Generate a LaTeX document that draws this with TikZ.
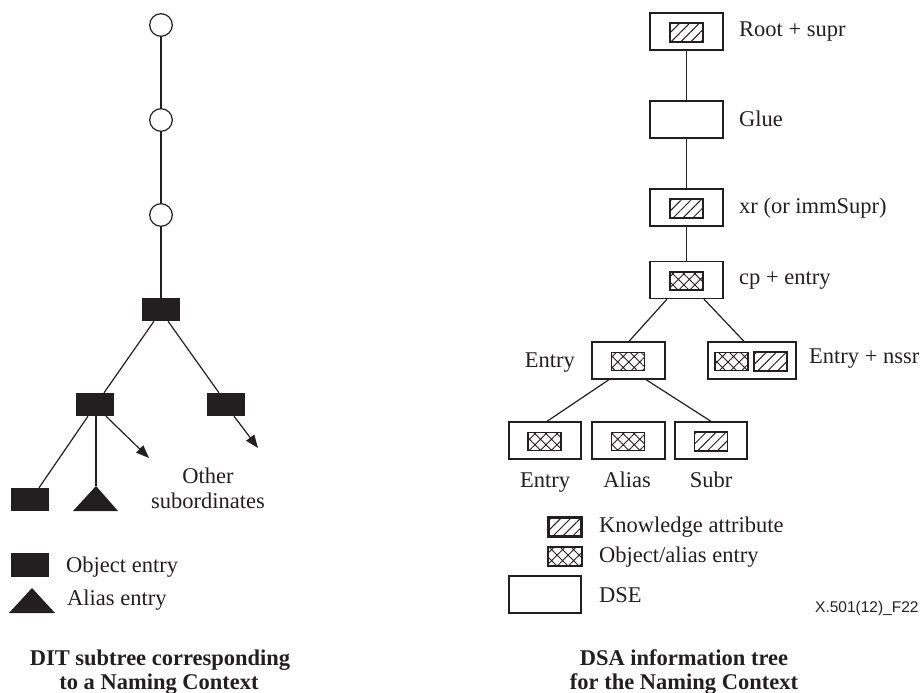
\documentclass[tikz,border=0pt]{standalone}
\usepackage{fontspec}
\setmainfont{Liberation Serif}
\newfontfamily\lsans{Liberation Sans}
\usetikzlibrary{arrows.meta,patterns.meta}
\definecolor{ink}{HTML}{231F20}
\begin{document}
\begin{tikzpicture}[x=1pt,y=-1pt,
  lbl/.style={inner sep=0pt,text=ink,font=\fontsize{22.5}{25}\selectfont},
  captext/.style={inner sep=0pt,text=ink,align=center,font=\fontsize{22.5}{25}\selectfont\bfseries},
  circ/.style={circle,draw=ink,line width=1.2pt,minimum size=22.6pt,inner sep=0pt},
  blk/.style={rectangle,fill=ink,draw=none,minimum width=38pt,minimum height=23pt,inner sep=0pt},
  dsebox/.style={rectangle,draw=ink,line width=1.3pt,minimum width=73pt,minimum height=37pt,inner sep=0pt},
  kn/.style={rectangle,draw=ink,line width=1.2pt,minimum width=33pt,minimum height=19pt,inner sep=0pt,
    pattern={Lines[angle=45,distance=7pt,line width=1pt]},pattern color=ink},
  oa/.style={rectangle,draw=ink,line width=1.2pt,minimum width=33pt,minimum height=18pt,inner sep=0pt,
    pattern={Hatch[angle=45,distance=7.8pt,line width=0.9pt]},pattern color=ink},
  conn/.style={draw=ink,line width=1.2pt},
  arr/.style={conn,-{Triangle[length=13pt,width=10pt]}}
]
\useasboundingbox (0,0) rectangle (922,693);

% ---------------- Left tree ----------------
\node[circ] (c1) at (161,25) {};
\node[circ] (c2) at (161,120) {};
\node[circ] (c3) at (161,215) {};
\node[blk] (t0) at (161,309.5) {};
\node[blk] (tl) at (95,404.5) {};
\node[blk] (tr) at (226,404.5) {};
\node[blk] (tll) at (30,499.5) {};
\coordinate (triapex) at (96,486);
\fill[ink] (73,511) -- (triapex) -- (118,511) -- cycle;
\coordinate (a1) at (149,458);
\coordinate (a2) at (258,448);

\draw[conn] (c1) -- (c2);
\draw[conn] (c2) -- (c3);
\draw[conn] (c3) -- (t0);
\draw[conn] ([xshift=-7pt]t0.south) -- ([xshift=9pt]tl.north);
\draw[conn] ([xshift=7pt]t0.south) -- ([xshift=-7pt]tr.north);
\draw[conn] ([xshift=-7pt]tl.south) -- ([xshift=9pt]tll.north);
\draw[conn] ([xshift=1pt]tl.south) -- (triapex);
\draw[arr] ([xshift=11pt]tl.south) -- (a1);
\draw[arr] ([xshift=8pt]tr.south) -- (a2);

\node[lbl,anchor=base] (oth) at (208,483) {Other};
\node[lbl,anchor=base] (sub) at (208,508) {subordinates};

% left legend
\node[blk,minimum height=24pt] (legblk) at (30,564.5) {};
\node[lbl,anchor=base west] (legobj) at (66,572) {Object entry};
\fill[ink] (9,613) -- (32,588) -- (55,613) -- cycle;
\node[lbl,anchor=base west] (legali) at (67,605) {Alias entry};

\node[captext,anchor=base] (capl1) at (160,665) {DIT subtree corresponding};
\node[captext,anchor=base] (capl2) at (159,689) {to a Naming Context};

% ---------------- Right tree ----------------
\node[dsebox] (root) at (686.5,31.5) {};
\node[kn] (rootk) at (686.5,32.5) {};
\node[dsebox] (glue) at (686.5,119.5) {};
\node[dsebox] (xr) at (686.5,207.5) {};
\node[kn] (xrk) at (686.5,208.5) {};
\node[dsebox] (cp) at (686.5,280) {};
\node[oa] (cpo) at (686.5,281) {};

\node[dsebox] (ent) at (628.5,360.5) {};
\node[oa] (ento) at (628,361.5) {};
\node[dsebox,minimum width=88pt] (nssr) at (752,360.5) {};
\node[oa] (nssro) at (731.5,361.5) {};
\node[kn] (nssrk) at (770.5,361.5) {};

\node[dsebox,minimum width=72pt] (b1) at (545,440.5) {};
\node[oa] (b1o) at (544.5,441.5) {};
\node[dsebox] (b2) at (628.5,440.5) {};
\node[oa] (b2o) at (628,441.5) {};
\node[dsebox,minimum width=72pt] (b3) at (711,440.5) {};
\node[kn] (b3k) at (711,441.5) {};

\draw[conn] (root) -- (glue);
\draw[conn] (glue) -- (xr);
\draw[conn] (xr) -- (cp);
\draw[conn] ([xshift=-19.5pt]cp.south) -- ([xshift=0.5pt]ent.north);
\draw[conn] ([xshift=17.5pt]cp.south) -- ([xshift=-8pt]nssr.north);
\draw[conn] ([xshift=-19.5pt]ent.south) -- ([xshift=2pt]b1.north);
\draw[conn] ([xshift=17.5pt]ent.south) -- (b3.north);

\node[lbl,anchor=base west] (lroot) at (739,37) {Root + supr};
\node[lbl,anchor=base west] (lglue) at (739,126) {Glue};
\node[lbl,anchor=base west] (lxr) at (739,213) {xr (or immSupr)};
\node[lbl,anchor=base west] (lcp) at (739,284) {cp + entry};
\node[lbl,anchor=base east] (lent) at (575,367) {Entry};
\node[lbl,anchor=base west] (lnssr) at (809,363) {Entry + nssr};
\node[lbl,anchor=base] (lb1) at (545,487) {Entry};
\node[lbl,anchor=base] (lb2) at (627,487) {Alias};
\node[lbl,anchor=base] (lb3) at (711,487) {Subr};

% right legend
\node[kn,line width=2.2pt,minimum width=33pt,minimum height=19pt] (legk) at (565,527) {};
\node[lbl,anchor=base west] (legkt) at (599,532) {Knowledge attribute};
\node[oa,minimum width=34pt,minimum height=19pt] (lego) at (565,556.5) {};
\node[lbl,anchor=base west] (legot) at (599,562) {Object/alias entry};
\node[dsebox,minimum width=72pt] (legd) at (545,594.5) {};
\node[lbl,anchor=base west] (legdt) at (599,602) {DSE};

\node[inner sep=0pt,anchor=base west,text=ink,font=\lsans\fontsize{15.5}{18}\selectfont] (fig) at (815,612) {X.501(12)\_F22};

\node[captext,anchor=base] (capr1) at (684,665) {DSA information tree};
\node[captext,anchor=base] (capr2) at (684,689) {for the Naming Context};
\end{tikzpicture}
\end{document}
